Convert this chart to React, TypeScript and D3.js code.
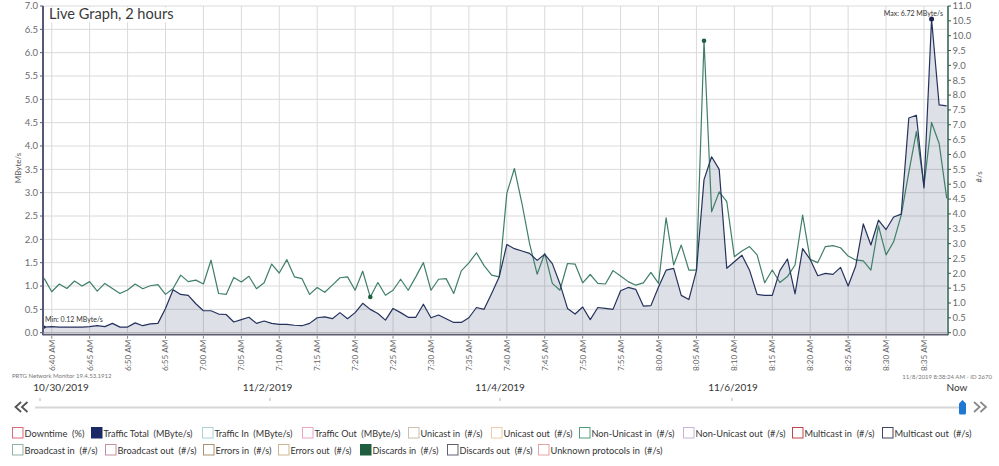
import React from "react";
import * as d3 from "d3";

const W = 999;
const H = 466;

// Traffic Total (MByte/s), one value per minute from 6:39 AM to 8:38 AM
const trafficTotal = [
  0.12, 0.13, 0.12, 0.12, 0.12, 0.12, 0.13, 0.15, 0.13, 0.2,
  0.12, 0.12, 0.21, 0.15, 0.19, 0.2, 0.52, 0.92, 0.82, 0.8,
  0.62, 0.47, 0.47, 0.4, 0.39, 0.23, 0.28, 0.33, 0.2, 0.25,
  0.2, 0.18, 0.18, 0.16, 0.15, 0.2, 0.32, 0.34, 0.3, 0.43,
  0.3, 0.43, 0.63, 0.5, 0.41, 0.27, 0.52, 0.43, 0.33, 0.33,
  0.61, 0.32, 0.38, 0.3, 0.22, 0.22, 0.32, 0.54, 0.5, 0.84,
  1.2, 1.89, 1.8, 1.75, 1.7, 1.55, 1.68, 1.48, 1.05, 0.52,
  0.4, 0.55, 0.28, 0.54, 0.52, 0.5, 0.9, 0.97, 0.93, 0.57,
  0.58, 0.98, 1.34, 1.38, 0.8, 0.71, 1.33, 3.28, 3.77, 3.5,
  1.38, 1.52, 1.66, 1.34, 0.82, 0.8, 0.8, 1.33, 1.58, 0.83,
  1.8, 1.57, 1.22, 1.27, 1.25, 1.4, 1.0, 1.43, 2.33, 1.88,
  2.41, 2.21, 2.48, 2.54, 4.6, 4.66, 3.1, 6.72, 4.88, 4.86,
];

// Non-Unicast in (#/s), same minutes
const nonUnicastIn = [
  1.83, 1.38, 1.64, 1.49, 1.74, 1.57, 1.72, 1.4, 1.66, 1.49,
  1.32, 1.44, 1.64, 1.48, 1.58, 1.62, 1.29, 1.49, 1.94, 1.72,
  1.77, 1.64, 2.44, 1.32, 1.29, 1.86, 1.71, 1.9, 1.48, 1.68,
  2.31, 2.01, 2.46, 1.88, 1.82, 1.29, 1.52, 1.36, 1.6, 1.85,
  1.88, 1.43, 2.07, 1.2, 1.69, 1.26, 1.43, 1.8, 1.43, 1.88,
  2.36, 1.43, 1.8, 1.82, 1.32, 2.08, 2.35, 2.69, 2.26, 1.94,
  1.88, 4.69, 5.53, 4.35, 3.0, 1.97, 2.67, 1.66, 1.43, 2.33,
  2.31, 1.68, 1.96, 1.66, 1.64, 2.09, 1.91, 1.72, 1.6, 1.68,
  2.03, 1.66, 3.87, 2.28, 2.95, 2.11, 2.11, 9.83, 4.07, 4.74,
  4.41, 2.56, 2.75, 2.9, 2.62, 1.68, 2.11, 1.69, 1.89, 2.28,
  3.96, 2.47, 2.36, 2.9, 2.93, 2.86, 2.58, 2.45, 2.42, 2.11,
  3.6, 2.62, 3.06, 3.96, 5.4, 6.77, 4.95, 7.08, 6.37, 4.52,
];

const leftTicks = [0, 0.5, 1, 1.5, 2, 2.5, 3, 3.5, 4, 4.5, 5, 5.5, 6, 6.5, 7];
const rightTicks = [
  0, 0.5, 1, 1.5, 2, 2.5, 3, 3.5, 4, 4.5, 5, 5.5, 6, 6.5, 7, 7.5, 8, 8.5, 9,
  9.5, 10, 10.5, 11,
];
const dateLabels = ["10/30/2019", "11/2/2019", "11/4/2019", "11/6/2019", "Now"];

const legendRow1 = [
  "Downtime  (%)",
  "Traffic Total  (MByte/s)",
  "Traffic In  (MByte/s)",
  "Traffic Out  (MByte/s)",
  "Unicast in  (#/s)",
  "Unicast out  (#/s)",
  "Non-Unicast in  (#/s)",
  "Non-Unicast out  (#/s)",
  "Multicast in  (#/s)",
  "Multicast out  (#/s)",
];
const legendRow2 = [
  "Broadcast in  (#/s)",
  "Broadcast out  (#/s)",
  "Errors in  (#/s)",
  "Errors out  (#/s)",
  "Discards in  (#/s)",
  "Discards out  (#/s)",
  "Unknown protocols in  (#/s)",
];

// layout / style (not data)
const legendX1 = [12, 91, 202, 302, 408, 491, 579, 683, 792, 882];
const legendW1 = [60, 89, 78, 86, 62, 69, 83, 90, 70, 77];
const legendX2 = [12, 105, 203, 278, 360, 447, 538];
const legendW2 = [73, 79, 56, 61, 66, 73, 112];
const legendColors1 = [
  { s: "#d96a78", f: "#fff" },
  { s: "#1a2a66", f: "#1a2a66" },
  { s: "#a9d2d2", f: "#fff" },
  { s: "#e8a5c4", f: "#fff" },
  { s: "#c9bfad", f: "#fff" },
  { s: "#f0cba5", f: "#fff" },
  { s: "#4f9c7e", f: "#fff" },
  { s: "#c9b3d9", f: "#fff" },
  { s: "#c2434f", f: "#fff" },
  { s: "#3f465e", f: "#fff" },
];
const legendColors2 = [
  { s: "#8fb3a5", f: "#fff" },
  { s: "#c38fa2", f: "#fff" },
  { s: "#a89272", f: "#fff" },
  { s: "#cdb593", f: "#fff" },
  { s: "#1e5e3e", f: "#1e5e3e" },
  { s: "#5e6070", f: "#fff" },
  { s: "#e3a3a3", f: "#fff" },
];
const dateX = [61, 267.5, 500, 733, 957];
const sliderTickX = [40, 270, 500, 732];

const FONT = "'Segoe UI', Lato, 'Noto Sans', sans-serif";

const start = new Date(2019, 10, 8, 6, 39, 0);
const times = trafficTotal.map((_, i) => d3.timeMinute.offset(start, i));

const PL = 43;
const PR = 948;
const PT = 6;
const PB = 332.7;

const x = d3
  .scaleTime()
  .domain([new Date(2019, 10, 8, 6, 38, 51), new Date(2019, 10, 8, 8, 38, 10)])
  .range([PL, PR]);
const yL = d3.scaleLinear().domain([0, 7]).range([PB, PT]);
const yR = d3.scaleLinear().domain([0, 11]).range([PB, PT]);

function Chevrons({ cx, cy, dir, color }: { cx: number; cy: number; dir: number; color: string }) {
  const pts = [-3.2, 3.2].map((o) => {
    const tipX = cx + o + dir * 2.8;
    const backX = cx + o - dir * 2.8;
    return `${backX},${cy - 5} ${tipX},${cy} ${backX},${cy + 5}`;
  });
  return (
    <g fill="none" stroke={color} strokeWidth={1.8} strokeLinejoin="miter">
      {pts.map((p, i) => (
        <polyline key={i} points={p} />
      ))}
    </g>
  );
}

export default function App() {
  const xTicks = x.ticks(d3.timeMinute.every(5) as any);
  const fmt = d3.timeFormat("%-I:%M %p");
  const f1 = d3.format(".1f");
  const f2 = d3.format(".2f");

  const area = d3
    .area<number>()
    .x((_, i) => x(times[i]))
    .y0(yL(0))
    .y1((d) => yL(d));
  const lineL = d3
    .line<number>()
    .x((_, i) => x(times[i]))
    .y((d) => yL(d));
  const lineR = d3
    .line<number>()
    .x((_, i) => x(times[i]))
    .y((d) => yR(d));

  const maxI = d3.maxIndex(trafficTotal);
  const minI = d3.minIndex(trafficTotal);
  const gMaxI = d3.maxIndex(nonUnicastIn);
  const gMinI = d3.minIndex(nonUnicastIn);

  return (
    <svg
      width={W}
      height={H}
      style={{ position: "absolute", left: 0, top: 0, background: "#fff" }}
      fontFamily={FONT}
    >
      <rect x={0} y={0} width={W} height={H} fill="#fff" />
      {/* grid */}
      {leftTicks.map((t) => (
        <line
          key={"h" + t}
          x1={PL}
          x2={PR}
          y1={yL(t)}
          y2={yL(t)}
          stroke="#dadada"
          strokeWidth={1}
        />
      ))}
      {xTicks.map((t, i) => (
        <line
          key={"v" + i}
          x1={x(t)}
          x2={x(t)}
          y1={PT}
          y2={PB}
          stroke="#dadada"
          strokeWidth={1}
        />
      ))}
      {/* title background + title */}
      <rect x={46} y={7.5} width={132} height={15} fill="#fff" />
      <text x={49} y={19} fontSize={14.6} fill="#3a3a3a">
        Live Graph, 2 hours
      </text>

      {/* area + lines */}
      <path d={area(trafficTotal) || ""} fill="#1e2d5a" fillOpacity={0.15} />
      <path
        d={lineR(nonUnicastIn) || ""}
        fill="none"
        stroke="#3f7f68"
        strokeWidth={1.2}
        strokeLinejoin="round"
      />
      <path
        d={lineL(trafficTotal) || ""}
        fill="none"
        stroke="#26325e"
        strokeWidth={1.2}
        strokeLinejoin="round"
      />
      {/* markers */}
      <circle cx={x(times[gMaxI])} cy={yR(nonUnicastIn[gMaxI])} r={2.3} fill="#1e5e3e" />
      <circle cx={x(times[gMinI])} cy={yR(nonUnicastIn[gMinI])} r={2.3} fill="#1e5e3e" />
      <circle cx={x(times[maxI])} cy={yL(trafficTotal[maxI])} r={2.5} fill="#1a2450" />
      <circle cx={x(times[minI])} cy={yL(trafficTotal[minI])} r={1.6} fill="#1a2450" />
      <text x={45} y={321.5} fontSize={7} fill="#333">
        {"Min: " + f2(trafficTotal[minI]) + " MByte/s"}
      </text>
      <text x={943} y={15.5} fontSize={7} fill="#333" textAnchor="end">
        {"Max: " + f2(trafficTotal[maxI]) + " MByte/s"}
      </text>

      {/* axes */}
      <line x1={PL} x2={PL} y1={PT} y2={PB + 2.5} stroke="#565878" strokeWidth={2} />
      <line x1={PR} x2={PR} y1={PT} y2={PB + 2.5} stroke="#2d5c4c" strokeWidth={1.5} />
      <line x1={PL} x2={PR} y1={PB + 0.3} y2={PB + 0.3} stroke="#9a9aa4" strokeWidth={1} />
      <line x1={PL} x2={PR} y1={PB + 2} y2={PB + 2} stroke="#5a5d70" strokeWidth={1.5} />

      {leftTicks.map((t) => (
        <g key={"lt" + t}>
          <line x1={PL - 3} x2={PL} y1={yL(t)} y2={yL(t)} stroke="#565878" />
          <text
            x={PL - 5}
            y={yL(t) + 3.3}
            fontSize={9.5}
            fill="#6a6a6a"
            textAnchor="end"
          >
            {f1(t)}
          </text>
        </g>
      ))}
      {rightTicks.map((t) => (
        <g key={"rt" + t}>
          <line x1={PR} x2={PR + 3} y1={yR(t)} y2={yR(t)} stroke="#2d5c4c" />
          <text x={PR + 4.5} y={yR(t) + 3.3} fontSize={9.5} fill="#6a6a6a">
            {f1(t)}
          </text>
        </g>
      ))}
      <text
        transform={`translate(21,168) rotate(-90)`}
        fontSize={8}
        fill="#555"
        textAnchor="middle"
      >
        MByte/s
      </text>
      <text
        transform={`translate(982,177) rotate(-90)`}
        fontSize={8}
        fill="#555"
        textAnchor="middle"
      >
        #/s
      </text>

      {xTicks.map((t, i) => (
        <g key={"xt" + i}>
          <line x1={x(t)} x2={x(t)} y1={PB + 3} y2={PB + 6} stroke="#888" />
          <text
            transform={`translate(${x(t) + 3},${PB + 7}) rotate(-90)`}
            fontSize={8.2}
            fill="#666"
            textAnchor="end"
          >
            {fmt(t)}
          </text>
        </g>
      ))}

      {/* footer */}
      <text x={12} y={378} fontSize={6} fill="#777">
        PRTG Network Monitor 19.4.53.1912
      </text>
      <text x={992} y={379} fontSize={6} fill="#777" textAnchor="end">
        11/8/2019 8:38:24 AM - ID 2670
      </text>
      {dateLabels.map((d, i) => (
        <text
          key={d}
          x={dateX[i]}
          y={391}
          fontSize={10}
          fill="#333"
          textAnchor="middle"
        >
          {d}
        </text>
      ))}
      {/* slider */}
      <Chevrons cx={21.5} cy={407} dir={-1} color="#555" />
      <Chevrons cx={980} cy={407} dir={1} color="#8a8a8a" />
      <line x1={35} x2={962} y1={407.5} y2={407.5} stroke="#d6d6d6" strokeWidth={2} />
      {sliderTickX.map((sx) => (
        <line key={sx} x1={sx} x2={sx} y1={398} y2={401} stroke="#b5b5b5" />
      ))}
      <path
        d="M962.5,400 L966,403.5 L966,413 Q966,414.5 964.5,414.5 L960.5,414.5 Q959,414.5 959,413 L959,403.5 Z"
        fill="#1f78d1"
      />

      {/* legend */}
      {legendRow1.map((l, i) => (
        <g key={l}>
          <rect
            x={legendX1[i] + 0.5}
            y={427.5}
            width={10.5}
            height={10.5}
            fill={legendColors1[i].f}
            stroke={legendColors1[i].s}
            strokeWidth={1}
          />
          <text
            x={legendX1[i] + 12.5}
            y={436.5}
            fontSize={10}
            fill="#333"
            xmlSpace="preserve"
            textLength={legendW1[i]}
            lengthAdjust="spacingAndGlyphs"
          >
            {l}
          </text>
        </g>
      ))}
      {legendRow2.map((l, i) => (
        <g key={l}>
          <rect
            x={legendX2[i] + 0.5}
            y={444.5}
            width={10.5}
            height={10.5}
            fill={legendColors2[i].f}
            stroke={legendColors2[i].s}
            strokeWidth={1}
          />
          <text
            x={legendX2[i] + 12.5}
            y={453.5}
            fontSize={10}
            fill="#333"
            xmlSpace="preserve"
            textLength={legendW2[i]}
            lengthAdjust="spacingAndGlyphs"
          >
            {l}
          </text>
        </g>
      ))}
    </svg>
  );
}
